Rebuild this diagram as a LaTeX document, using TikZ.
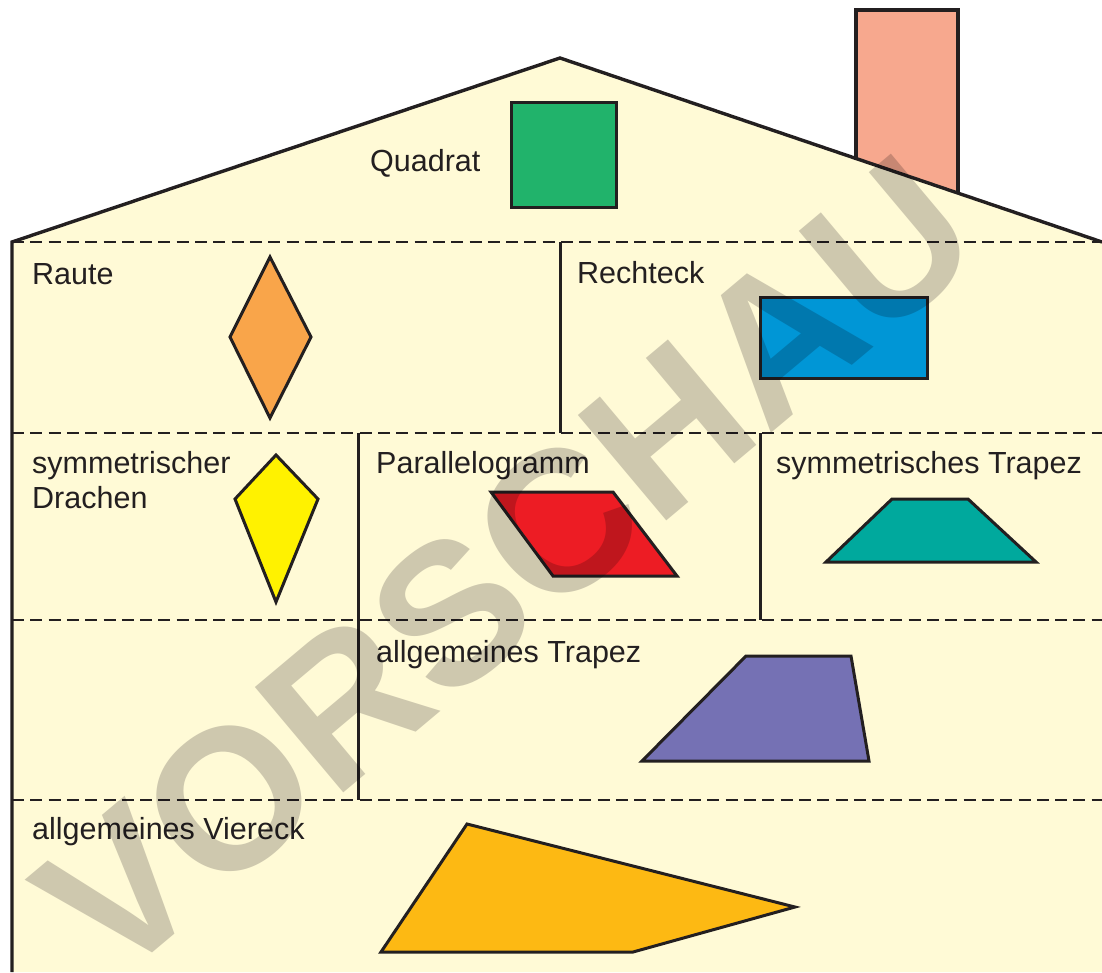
\documentclass[tikz,border=0pt]{standalone}
\usepackage{fontspec}
\setmainfont{Liberation Sans}
\definecolor{ink}{HTML}{231F20}
\definecolor{bg}{HTML}{FFFAD6}
\definecolor{chim}{HTML}{F7A88E}
\definecolor{cgreen}{HTML}{21B36B}
\definecolor{corange}{HTML}{F9A54A}
\definecolor{cblue}{HTML}{0096D6}
\definecolor{cyellow}{HTML}{FFF200}
\definecolor{cred}{HTML}{ED1C24}
\definecolor{cteal}{HTML}{00A99D}
\definecolor{cpurple}{HTML}{7571B4}
\definecolor{cgold}{HTML}{FDB913}
\definecolor{wmark}{RGB}{206,205,208}
\begin{document}
\begin{tikzpicture}[x=1pt,y=-1pt,
  lbl/.style={anchor=base west,inner sep=0pt,font=\fontsize{30.5}{35}\selectfont,text=ink,align=left},
  shp/.style={draw=ink,line width=3pt,line join=miter},
  wall/.style={draw=ink,line width=3.4pt,line join=miter},
  sep/.style={draw=ink,line width=2.8pt,dash pattern=on 12pt off 6.3pt},
  divline/.style={draw=ink,line width=3pt}]
\useasboundingbox (0,0) rectangle (1102,972);
% house body
\fill[bg] (12,242) -- (560,58) -- (1102,242) -- (1102,972) -- (12,972) -- cycle;
% chimney
\filldraw[fill=chim,wall] (856,160) -- (856,10) -- (958,10) -- (958,193);
% roof and wall
\draw[wall] (12,972) -- (12,242) -- (560,58) -- (1102,242);
% floor separators
\draw[sep] (12,242) -- (1102,242);
\draw[sep] (12,433) -- (1102,433);
\draw[sep] (12,620) -- (1102,620);
\draw[sep] (12,800) -- (1102,800);
% room dividers
\draw[divline] (560,242) -- (560,433);
\draw[divline] (358,433) -- (358,800);
\draw[divline] (760,433) -- (760,620);
% shapes
\filldraw[shp,fill=cgreen] (511,102) rectangle (616,207);
\filldraw[shp,fill=corange] (270,257) -- (311,337) -- (270,418) -- (230,337) -- cycle;
\filldraw[shp,fill=cblue] (760,297) rectangle (927,378);
\filldraw[shp,fill=cyellow] (276,455) -- (318,499) -- (276,602) -- (235,499) -- cycle;
\filldraw[shp,fill=cred] (491,492) -- (613,492) -- (677,576) -- (553,576) -- cycle;
\filldraw[shp,fill=cteal] (892,499) -- (968,499) -- (1036,562) -- (826,562) -- cycle;
\filldraw[shp,fill=cpurple] (746,656) -- (851,656) -- (869,761) -- (642,761) -- cycle;
\filldraw[shp,fill=cgold] (467,824) -- (795,907) -- (633,952) -- (381,952) -- cycle;
% labels
\node[lbl] (quadrat) at (370,171) {Quadrat};
\node[lbl] (raute) at (32,284) {Raute};
\node[lbl] (rechteck) at (577,283) {Rechteck};
\node[lbl] (drachen1) at (32,473) {symmetrischer};
\node[lbl] (drachen2) at (32,508) {Drachen};
\node[lbl] (parallelogramm) at (376,473) {Parallelogramm};
\node[lbl] (symtrapez) at (776,473) {symmetrisches Trapez};
\node[lbl] (alltrapez) at (376,662) {allgemeines Trapez};
\node[lbl] (viereck) at (32,839) {allgemeines Viereck};
% watermark
\begin{scope}[blend mode=multiply]
\node[rotate=40,anchor=base west,inner sep=0pt,text=wmark,font=\fontsize{200}{200}\selectfont\bfseries] (wm) at (112,987) {VORSCHAU};
\end{scope}
\end{tikzpicture}
\end{document}
